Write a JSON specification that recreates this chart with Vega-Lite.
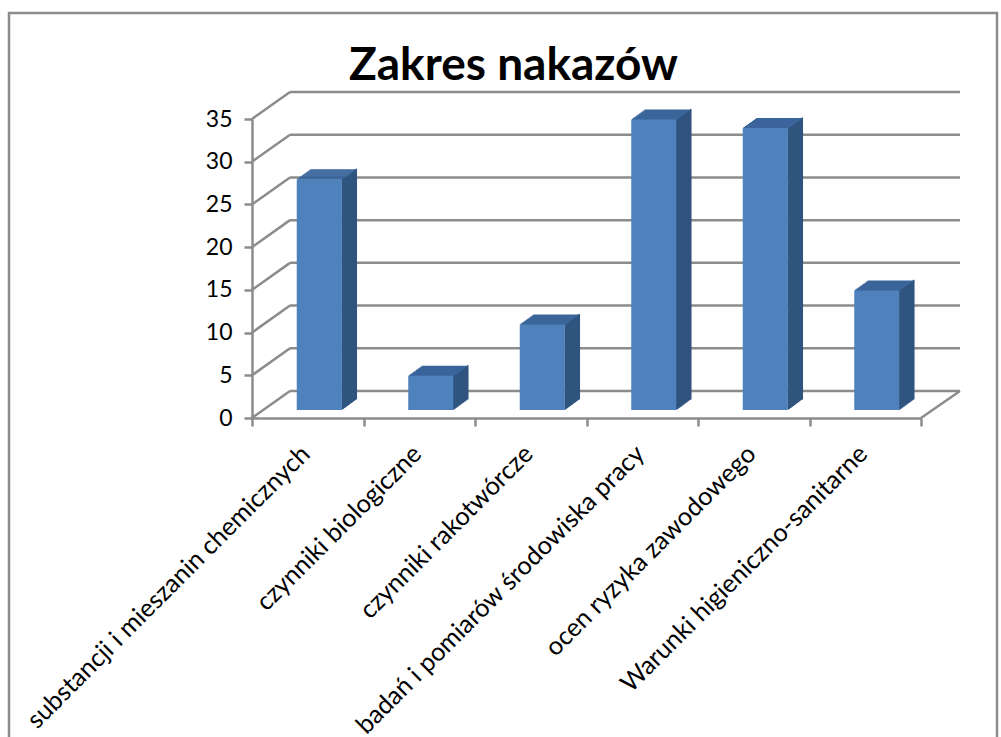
{
"$schema":"https://vega.github.io/schema/vega-lite/v6.json",
"autosize":{"type":"none"},
"padding":{"left":9,"top":13,"right":4,"bottom":0},
"width":988,"height":730,
"background":"white",
"view":{"stroke":"#8c8c8c","strokeWidth":2.5,"fill":"white"},
"title":{"text":"Zakres nakazów","font":"Lato","fontWeight":"bold","fontSize":46,"color":"#000000","anchor":"start","frame":"group","dx":340,"dy":81},
"datasets":{
"bars":[
{"kategoria":"substancji i mieszanin chemicznych","liczba":27},
{"kategoria":"czynniki biologiczne","liczba":4},
{"kategoria":"czynniki rakotwórcze","liczba":10},
{"kategoria":"badań i pomiarów środowiska pracy","liczba":34},
{"kategoria":"ocen ryzyka zawodowego","liczba":33},
{"kategoria":"Warunki higieniczno-sanitarne","liczba":14}],
"ticks":[{"v":0},{"v":5},{"v":10},{"v":15},{"v":20},{"v":25},{"v":30},{"v":35}],
"edge":[{"v":0}]
},
"data":{"name":"bars"},
"encoding":{
"x":{"field":"kategoria","type":"nominal","sort":null,"title":null,
 "scale":{"domain":["substancji i mieszanin chemicznych","czynniki biologiczne","czynniki rakotwórcze","badań i pomiarów środowiska pracy","ocen ryzyka zawodowego","Warunki higieniczno-sanitarne"],"range":[243,912],"paddingInner":0,"paddingOuter":0},
 "axis":{"offset":-325,"tickBand":"extent","labelAngle":-45,"labelAlign":"right","labelBaseline":"top","labelFont":"Lato","labelFontSize":25.3,"labelColor":"#000000","labelLimit":600,"labelPadding":15,"labelOffset":-11,"labelOverlap":false,"domainColor":"#8c8c8c","domainWidth":2.5,"tickColor":"#8c8c8c","tickWidth":2.5,"tickSize":8}},
"y":{"field":"liczba","type":"quantitative","title":null,
 "scale":{"domain":[0,35],"range":[405,106],"nice":false},
 "axis":{"offset":-243,"values":[0,5,10,15,20,25,30,35],"grid":false,"labelFont":"Lato","labelFontSize":23,"labelColor":"#000000","labelPadding":12,"domainColor":"#8c8c8c","domainWidth":2.5,"tickColor":"#8c8c8c","tickWidth":2.5,"tickSize":8}}
},
"layer":[
{"data":{"name":"ticks"},"mark":{"type":"rule","color":"#8c8c8c","strokeWidth":2.5,"xOffset":38,"x2Offset":39,"yOffset":-27},
 "encoding":{"x":{"datum":"substancji i mieszanin chemicznych","bandPosition":0},"x2":{"datum":"Warunki higieniczno-sanitarne","bandPosition":1},"y":{"field":"v","type":"quantitative"}}},
{"data":{"name":"ticks"},"mark":{"type":"rule","color":"#8c8c8c","strokeWidth":2.5,"x2Offset":38,"y2Offset":-27},
 "encoding":{"x":{"datum":"substancji i mieszanin chemicznych","bandPosition":0},"x2":{"datum":"substancji i mieszanin chemicznych","bandPosition":0},"y":{"field":"v","type":"quantitative"},"y2":{"field":"v"}}},
{"data":{"name":"edge"},"mark":{"type":"rule","color":"#8c8c8c","strokeWidth":2.5,"x2Offset":39,"y2Offset":-27},
 "encoding":{"x":{"datum":"Warunki higieniczno-sanitarne","bandPosition":1},"x2":{"datum":"Warunki higieniczno-sanitarne","bandPosition":1},"y":{"field":"v","type":"quantitative"},"y2":{"field":"v"}}},
{"mark":{"type":"bar","color":"#30547f","width":1.6,"xOffset":34.5,"yOffset":-8.4,"y2Offset":-8.4},"encoding":{"y2":{"datum":0}}},
{"mark":{"type":"bar","color":"#30547f","width":1.6,"xOffset":35.5,"yOffset":-9.1,"y2Offset":-9.1},"encoding":{"y2":{"datum":0}}},
{"mark":{"type":"bar","color":"#30547f","width":1.6,"xOffset":36.5,"yOffset":-9.9,"y2Offset":-9.9},"encoding":{"y2":{"datum":0}}},
{"mark":{"type":"bar","color":"#30547f","width":1.6,"xOffset":37.5,"yOffset":-10.6,"y2Offset":-10.6},"encoding":{"y2":{"datum":0}}},
{"mark":{"type":"bar","color":"#30547f","width":1.6,"xOffset":38.5,"yOffset":-11.3,"y2Offset":-11.3},"encoding":{"y2":{"datum":0}}},
{"mark":{"type":"bar","color":"#30547f","width":1.6,"xOffset":39.5,"yOffset":-12.1,"y2Offset":-12.1},"encoding":{"y2":{"datum":0}}},
{"mark":{"type":"bar","color":"#30547f","width":1.6,"xOffset":40.5,"yOffset":-12.8,"y2Offset":-12.8},"encoding":{"y2":{"datum":0}}},
{"mark":{"type":"bar","color":"#30547f","width":1.6,"xOffset":41.5,"yOffset":-13.5,"y2Offset":-13.5},"encoding":{"y2":{"datum":0}}},
{"mark":{"type":"bar","color":"#30547f","width":1.6,"xOffset":42.5,"yOffset":-14.3,"y2Offset":-14.3},"encoding":{"y2":{"datum":0}}},
{"mark":{"type":"bar","color":"#30547f","width":1.6,"xOffset":43.5,"yOffset":-15,"y2Offset":-15},"encoding":{"y2":{"datum":0}}},
{"mark":{"type":"bar","color":"#30547f","width":1.6,"xOffset":44.5,"yOffset":-15.7,"y2Offset":-15.7},"encoding":{"y2":{"datum":0}}},
{"mark":{"type":"bar","color":"#30547f","width":1.6,"xOffset":45.5,"yOffset":-16.5,"y2Offset":-16.5},"encoding":{"y2":{"datum":0}}},
{"mark":{"type":"bar","color":"#30547f","width":1.6,"xOffset":46.5,"yOffset":-17.2,"y2Offset":-17.2},"encoding":{"y2":{"datum":0}}},
{"mark":{"type":"bar","color":"#30547f","width":1.6,"xOffset":47.5,"yOffset":-17.9,"y2Offset":-17.9},"encoding":{"y2":{"datum":0}}},
{"mark":{"type":"bar","color":"#30547f","width":1.6,"xOffset":48.5,"yOffset":-18.6,"y2Offset":-18.6},"encoding":{"y2":{"datum":0}}},
{"mark":{"type":"bar","color":"#3a659b","width":45,"xOffset":12.2,"yOffset":-9,"y2Offset":-7.5},"encoding":{"y2":{"field":"liczba"}}},
{"mark":{"type":"bar","color":"#3a659b","width":45,"xOffset":13.6,"yOffset":-10,"y2Offset":-8.5},"encoding":{"y2":{"field":"liczba"}}},
{"mark":{"type":"bar","color":"#3a659b","width":45,"xOffset":15,"yOffset":-11,"y2Offset":-9.5},"encoding":{"y2":{"field":"liczba"}}},
{"mark":{"type":"bar","color":"#3a659b","width":45,"xOffset":16.4,"yOffset":-12,"y2Offset":-10.5},"encoding":{"y2":{"field":"liczba"}}},
{"mark":{"type":"bar","color":"#3a659b","width":45,"xOffset":17.8,"yOffset":-13,"y2Offset":-11.5},"encoding":{"y2":{"field":"liczba"}}},
{"mark":{"type":"bar","color":"#3a659b","width":45,"xOffset":19.2,"yOffset":-14,"y2Offset":-12.5},"encoding":{"y2":{"field":"liczba"}}},
{"mark":{"type":"bar","color":"#3a659b","width":45,"xOffset":20.6,"yOffset":-15,"y2Offset":-13.5},"encoding":{"y2":{"field":"liczba"}}},
{"mark":{"type":"bar","color":"#3a659b","width":45,"xOffset":22,"yOffset":-16,"y2Offset":-14.5},"encoding":{"y2":{"field":"liczba"}}},
{"mark":{"type":"bar","color":"#3a659b","width":45,"xOffset":23.4,"yOffset":-17,"y2Offset":-15.5},"encoding":{"y2":{"field":"liczba"}}},
{"mark":{"type":"bar","color":"#3a659b","width":45,"xOffset":24.8,"yOffset":-18,"y2Offset":-16.5},"encoding":{"y2":{"field":"liczba"}}},
{"mark":{"type":"bar","color":"#4f81bd","width":45,"xOffset":11.5,"yOffset":-8,"y2Offset":-8},"encoding":{"y2":{"datum":0}}}
]
}
